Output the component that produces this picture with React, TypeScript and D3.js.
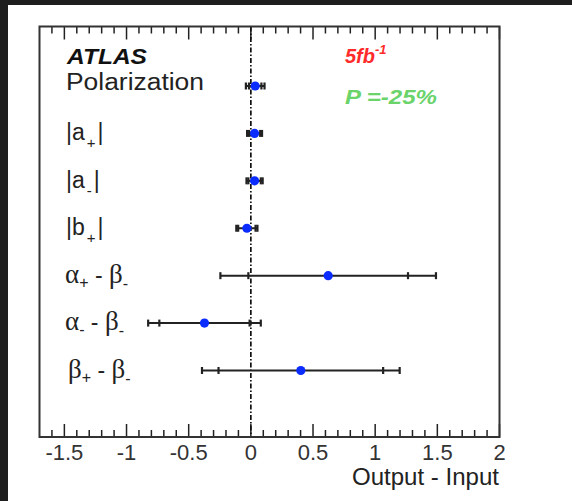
import React from "react";
import * as d3 from "d3";

const categories = ["Polarization", "|a+|", "|a-|", "|b+|", "α+ - β-", "α- - β-", "β+ - β-"];
const values = [0.035, 0.03, 0.03, -0.032, 0.622, -0.373, 0.402];
const statErr = [0.05, 0.045, 0.05, 0.07, 0.642, 0.363, 0.662];
const totErr = [0.075, 0.06, 0.065, 0.085, 0.867, 0.453, 0.795];
const majorTicks = [-1.5, -1, -0.5, 0, 0.5, 1, 1.5, 2];
const tickLabels = ["-1.5", "-1", "-0.5", "0", "0.5", "1", "1.5", "2"];

const W = 572;
const H = 501;
const L = 39.5, R = 499.5, T = 26.5, B = 437;

export default function App() {
  const x = d3.scaleLinear().domain([-1.7, 2]).range([L, R]);
  const y = d3.scalePoint<string>().domain(categories).range([86, 370.5]);
  const minor = d3.range(-17, 21).map((d) => d / 10).filter((v) => !majorTicks.some((m) => Math.abs(m - v) < 1e-6) && v > -1.69 && v < 1.99);
  const sans = "'Liberation Sans', Arial, sans-serif";
  const serif = "'Liberation Serif', 'Times New Roman', serif";
  const ink = "#222";

  const labelY = (i: number) => (y(categories[i]) as number) + 7;

  return (
    <svg width={W} height={H} style={{ position: "absolute", left: 0, top: 0, background: "#fff" }}>
      <rect x={0} y={0} width={W} height={H} fill="#fff" />
      <rect x={0} y={0} width={W} height={5} fill="#1e1e1e" />
      <rect x={0} y={0} width={8} height={H} fill="#1e1e1e" />

      {/* ticks */}
      {majorTicks.map((t) => (
        <g key={"M" + t}>
          <line x1={x(t)} x2={x(t)} y1={B} y2={B - 13} stroke={ink} strokeWidth={1.5} />
          <line x1={x(t)} x2={x(t)} y1={T} y2={T + 13} stroke={ink} strokeWidth={1.5} />
        </g>
      ))}
      {minor.map((t) => (
        <g key={"m" + t}>
          <line x1={x(t)} x2={x(t)} y1={B} y2={B - 7} stroke={ink} strokeWidth={1.5} />
          <line x1={x(t)} x2={x(t)} y1={T} y2={T + 7} stroke={ink} strokeWidth={1.5} />
        </g>
      ))}
      {majorTicks.map((t, i) => (
        <text key={"l" + t} x={x(t)} y={460} textAnchor="middle" fontFamily={sans} fontSize={22} fill="#333">
          {tickLabels[i]}
        </text>
      ))}
      <text x={499} y={485} textAnchor="end" fontFamily={sans} fontSize={23} fill="#222" textLength={147} lengthAdjust="spacingAndGlyphs">
        Output - Input
      </text>

      {/* zero line */}
      <line x1={x(0)} x2={x(0)} y1={T} y2={B} stroke="#111" strokeWidth={1.7} strokeDasharray="5,2,1.5,2" />

      {/* error bars */}
      {categories.map((c, i) => {
        const cy = y(c) as number;
        const v = values[i];
        return (
          <g key={"e" + i}>
            <line x1={x(v - totErr[i])} x2={x(v + totErr[i])} y1={cy} y2={cy} stroke={ink} strokeWidth={2} />
            {[v - totErr[i], v + totErr[i], v - statErr[i], v + statErr[i]].map((e, j) => (
              <line key={j} x1={x(e)} x2={x(e)} y1={cy - 3.5} y2={cy + 3.5} stroke={ink} strokeWidth={2.2} />
            ))}
            <circle cx={x(v)} cy={cy} r={4.6} fill="#0a2cff" />
          </g>
        );
      })}

      {/* frame */}
      <rect x={L} y={T} width={R - L} height={B - T} fill="none" stroke="#333" strokeWidth={2} />

      {/* texts */}
      <text x={67} y={64} fontFamily={sans} fontSize={22} fontWeight="bold" fontStyle="italic" fill="#111" textLength={80} lengthAdjust="spacingAndGlyphs">
        ATLAS
      </text>
      <text x={66} y={90} fontFamily={sans} fontSize={23} fill="#222" textLength={138} lengthAdjust="spacingAndGlyphs">
        {categories[0]}
      </text>

      <text x={345} y={63} fontFamily={sans} fontSize={20} fontWeight="bold" fontStyle="italic" fill="#ff2b2b">
        5fb
        <tspan dy={-9} fontSize={13}>-1</tspan>
      </text>
      <text x={345} y={104} fontFamily={sans} fontSize={21} fontWeight="bold" fontStyle="italic" fill="#6ad36a" textLength={92} lengthAdjust="spacingAndGlyphs">
        P =-25%
      </text>

      {[1, 2, 3].map((i) => {
        const base = labelY(i);
        const letter = i === 3 ? "b" : "a";
        const sub = i === 2 ? "-" : "+";
        return (
          <text key={"t" + i} x={66} y={base} fontFamily={sans} fontSize={23} fill="#222">
            {"|" + letter}
            <tspan dx={2} dy={8} fontSize={15}>{sub}</tspan>
            <tspan dx={2} dy={-8}>|</tspan>
          </text>
        );
      })}

      {[4, 5, 6].map((i) => {
        const base = labelY(i);
        const first = i === 6 ? "β" : "α";
        const sub = i === 5 ? "-" : "+";
        return (
          <text key={"g" + i} x={i === 6 ? 68 : 65} y={base} fontFamily={serif} fontSize={27} fill="#222">
            {first}
            <tspan dy={5} fontSize={16} fontFamily={sans}>{sub}</tspan>
            <tspan dy={-5} fontFamily={sans} fontSize={23}>{" - "}</tspan>
            <tspan>β</tspan>
            <tspan dy={6} fontSize={16} fontFamily={sans}>-</tspan>
          </text>
        );
      })}
    </svg>
  );
}
